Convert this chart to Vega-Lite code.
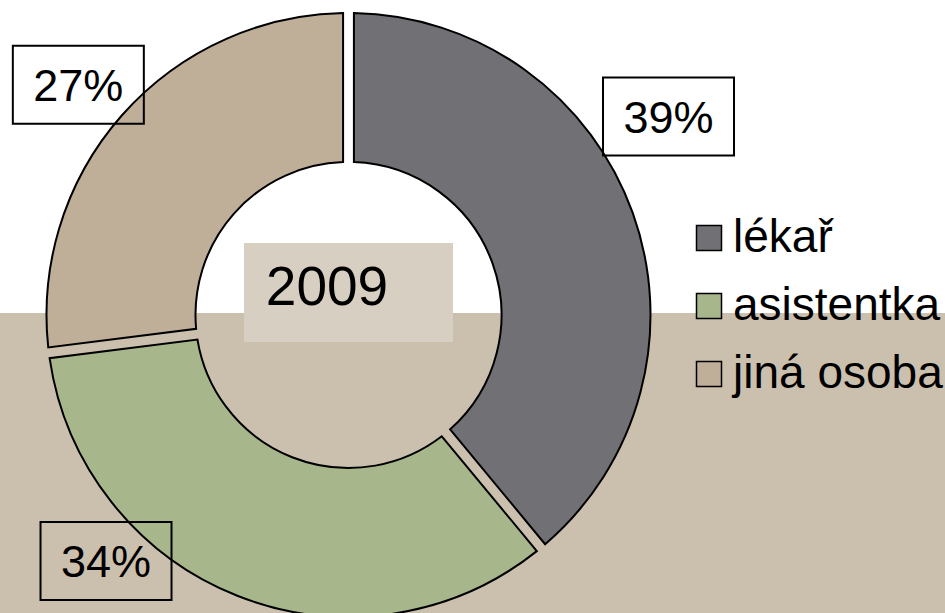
{
  "$schema": "https://vega.github.io/schema/vega-lite/v6.json",
  "width": 945,
  "height": 613,
  "autosize": {"type": "none"},
  "padding": 0,
  "background": "#ffffff",
  "config": {"view": {"stroke": null}, "font": "Liberation Sans"},
  "datasets": {
    "podily": [
      {"kategorie": "lékař", "podil": 39, "poradi": 1, "popisek": "39%"},
      {"kategorie": "asistentka", "podil": 34, "poradi": 2, "popisek": "34%"},
      {"kategorie": "jiná osoba", "podil": 27, "poradi": 3, "popisek": "27%"}
    ],
    "rok": [{"rok": "2009"}]
  },
  "layer": [
    {
      "data": {"name": "rok"},
      "mark": {
        "type": "rect",
        "fill": {
          "gradient": "linear", "x1": 0, "y1": 0, "x2": 0, "y2": 1,
          "stops": [
            {"offset": 0, "color": "#ffffff"},
            {"offset": 0.5106, "color": "#ffffff"},
            {"offset": 0.5106, "color": "#cbbfae"},
            {"offset": 1, "color": "#cbbfae"}
          ]
        }
      },
      "encoding": {}
    },
    {
      "data": {"name": "podily"},
      "mark": {"type": "arc", "x": 348.5, "y": 315, "innerRadius": 153, "outerRadius": 302, "padAngle": 0.032, "stroke": "#000000", "strokeWidth": 2},
      "encoding": {
        "theta": {"field": "podil", "type": "quantitative", "stack": true},
        "order": {"field": "poradi", "type": "quantitative"},
        "color": {
          "field": "kategorie", "type": "nominal",
          "scale": {"domain": ["lékař", "asistentka", "jiná osoba"], "range": ["#707075", "#a8b78b", "#bfae98"]},
          "legend": {
            "orient": "none", "legendX": 686, "legendY": 215, "title": null,
            "symbolType": "square", "symbolSize": 625, "symbolStrokeColor": "#000000", "symbolStrokeWidth": 1.5,
            "symbolOpacity": 1, "labelFontSize": 46, "labelFont": "Liberation Sans", "labelColor": "#000000",
            "labelLimit": 400, "rowPadding": 22, "labelOffset": 1, "padding": 0
          }
        }
      }
    },
    {
      "data": {"name": "podily"},
      "transform": [
        {"stack": "podil", "groupby": [], "sort": [{"field": "poradi", "order": "ascending"}], "offset": "normalize", "as": ["od", "do"]}
      ],
      "mark": {
        "type": "point", "filled": false, "fill": null, "stroke": "#000000", "strokeWidth": 2, "opacity": 1, "size": 17161,
        "shape": "M-1,-0.595H1V0.595H-1Z",
        "x": {"expr": "348.5 + (datum.kategorie === 'lékař' ? 375.5 : datum.kategorie === 'asistentka' ? 346.9 : 353.7) * sin(PI * (datum.od + datum.do) + (datum.kategorie === 'lékař' ? -0.205 : datum.kategorie === 'asistentka' ? 0.397 : -0.021))"},
        "y": {"expr": "315 - (datum.kategorie === 'lékař' ? 375.5 : datum.kategorie === 'asistentka' ? 346.9 : 353.7) * cos(PI * (datum.od + datum.do) + (datum.kategorie === 'lékař' ? -0.205 : datum.kategorie === 'asistentka' ? 0.397 : -0.021)) - 2"}
      },
      "encoding": {}
    },
    {
      "data": {"name": "podily"},
      "mark": {
        "type": "text", "x": 348.5, "y": 315, "fontSize": 45, "fill": "#000000", "align": "center", "baseline": "middle",
        "radius": {"expr": "datum.kategorie === 'lékař' ? 375.5 : datum.kategorie === 'asistentka' ? 346.9 : 353.7"},
        "thetaOffset": {"expr": "datum.kategorie === 'lékař' ? -0.205 : datum.kategorie === 'asistentka' ? 0.397 : -0.021"}
      },
      "encoding": {
        "theta": {"field": "podil", "type": "quantitative", "stack": true},
        "order": {"field": "poradi", "type": "quantitative"},
        "text": {"field": "popisek"}
      }
    },
    {
      "data": {"name": "rok"},
      "mark": {
        "type": "point", "filled": true, "fill": "#d8cfc3", "stroke": null, "opacity": 1, "size": 43681,
        "shape": "M-1,-0.4737H1V0.4737H-1Z", "x": 348.5, "y": 292.5
      },
      "encoding": {}
    },
    {
      "data": {"name": "rok"},
      "mark": {"type": "text", "x": 327, "y": 287.5, "fontSize": 55, "fill": "#000000", "align": "center", "baseline": "middle"},
      "encoding": {"text": {"field": "rok"}}
    }
  ]
}
